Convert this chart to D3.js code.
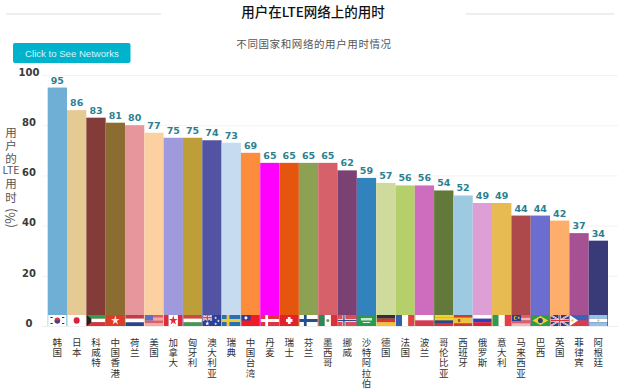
<!DOCTYPE html>
<html>
<head>
<meta charset="utf-8">
<script src="https://cdn.jsdelivr.net/npm/d3@7"></script>
<style>
  html, body { margin: 0; padding: 0; background: #fff; overflow: hidden; }
  text { font-family: "Noto Sans CJK SC", "Noto Sans", sans-serif; }
  .upright { writing-mode: vertical-rl; text-orientation: upright; }
</style>
</head>
<body>
<svg id="chart" width="626" height="391"></svg>
<script>
var countries = ["韩国", "日本", "科威特", "中国香港", "荷兰", "美国", "加拿大", "匈牙利", "澳大利亚", "瑞典",
  "中国台湾", "丹麦", "瑞士", "芬兰", "墨西哥", "挪威", "沙特阿拉伯", "德国", "法国", "波兰",
  "哥伦比亚", "西班牙", "俄罗斯", "意大利", "马来西亚", "巴西", "英国", "菲律宾", "阿根廷"];
var values = [95, 86, 83, 81, 80, 77, 75, 75, 74, 73, 69, 65, 65, 65, 65, 62, 59, 57, 56, 56, 54, 52, 49, 49, 44, 44, 42, 37, 34];
var barColours = ["#6fafd6", "#e6ca93", "#843c39", "#8c6d31", "#e7969c", "#fdd0a2", "#9e9adb", "#bd9e39", "#5254a3", "#c6dbef",
  "#fd8d3c", "#ff00ff", "#e6550d", "#8ca252", "#d6616b", "#7b4173", "#3182bd", "#cedb9c", "#b5cf6b", "#ce6dbd",
  "#637939", "#9ecae1", "#de9ed6", "#e7ba52", "#ad494a", "#6b6ecf", "#fdae6b", "#a55194", "#393b79"];
var yTicks = [0, 20, 40, 60, 80, 100];

var title = "用户在LTE网络上的用时";
var subtitle = "不同国家和网络的用户用时情况";
var buttonLabel = "Click to See Networks";

// flag background: stripe direction, then stripe colours
var flagStripes = [
  ["h", "#fff"], ["h", "#fff"], ["h", "#2e9e4f", "#fff", "#d8303a"], ["h", "#de3b2a"], ["h", "#c33a46", "#fff", "#26458f"],
  ["h", "#d9606a", "#f3a5a8", "#d9606a", "#f3a5a8"], ["v", "#e02b35", "#fff", "#fff", "#e02b35"], ["h", "#d2444c", "#fff", "#3e9a5c"],
  ["h", "#2b3f95"], ["h", "#2a6fb0"], ["h", "#ee1c25"], ["h", "#e0353f"], ["h", "#e0222c"], ["h", "#fff"],
  ["v", "#2b8a55", "#fff", "#d8303a"], ["h", "#d8505a"], ["h", "#2c9a4e"], ["h", "#333", "#d8303a", "#f2c230"],
  ["v", "#2f5fb0", "#fff", "#e5404a"], ["h", "#fff", "#d83a4c"], ["h", "#f4d02f", "#f4d02f", "#2a4595", "#d8303a"],
  ["h", "#cf3b2f", "#f2c42e", "#f2c42e", "#cf3b2f"], ["h", "#fff", "#2b40c0", "#e0222c"], ["v", "#2a9c58", "#fff", "#e0404a"],
  ["h", "#d8606a", "#f5b5b8", "#d8606a", "#f5b5b8"], ["h", "#2d9c4a"], ["h", "#2b3f85"], ["h", "#3a62b5", "#dd3a48"],
  ["h", "#8fc3ea", "#fff", "#8fc3ea"]
];

var svg = d3.select("#chart");
var defs = svg.append("defs");
defs.append("filter").attr("id", "soft")
  .append("feGaussianBlur").attr("stdDeviation", 0.45);

var x = d3.scaleBand().domain(countries).range([47.7, 608]);
var y = d3.scaleLinear().domain([0, 100]).range([326, 75]);

// Header
svg.append("text").attr("x", 313).attr("y", 17).attr("text-anchor", "middle")
  .style("font-size", "13.5px").style("font-weight", 500).attr("fill", "#111").text(title);
svg.append("text").attr("x", 314).attr("y", 48).attr("text-anchor", "middle")
  .style("font-size", "10.5px").style("letter-spacing", "0.6px").attr("fill", "#555").text(subtitle);
svg.selectAll(".rule").data([[6, 161], [466, 614]]).join("line").attr("class", "rule")
  .attr("x1", (d) => d[0]).attr("x2", (d) => d[1]).attr("y1", 14).attr("y2", 14)
  .attr("stroke", "#e8e8e8").attr("stroke-width", 1.5);

// Button
svg.append("rect").attr("x", 13).attr("y", 43).attr("width", 117.5).attr("height", 20).attr("rx", 2).attr("fill", "#00b3cc");
svg.append("text").attr("x", 72).attr("y", 56.5).attr("text-anchor", "middle")
  .style("font-family", '"Liberation Sans", sans-serif').style("font-size", "9.6px").attr("fill", "#d8f4f8").text(buttonLabel);

// Y axis
var yAxis = d3.axisLeft(y).tickValues(yTicks).tickSize(-576).tickPadding(0);
var gY = svg.append("g").attr("transform", "translate(42,0)").call(yAxis);
gY.select(".domain").remove();
gY.selectAll(".tick line").attr("stroke", "#f3f3f3");
gY.selectAll(".tick text")
  .attr("x", -13).attr("dy", "0.32em").attr("y", -3).attr("text-anchor", "middle")
  .style("font-family", '"DejaVu Sans", sans-serif').style("font-size", "10px").style("font-weight", "bold").attr("fill", "#3a3a3a");

// Y axis title, stacked. LTE stays horizontal so it sits between two upright runs
var yTitleStyle = (t, size) => t.style("font-size", size).attr("fill", "#555");
yTitleStyle(svg.append("text").attr("class", "upright").attr("x", 11).attr("y", 127)
  .style("letter-spacing", "1.2px").text("用户的"), "11.5px");
yTitleStyle(svg.append("text").attr("x", 11).attr("y", 174).attr("text-anchor", "middle").text("LTE"), "10.5px");
yTitleStyle(svg.append("text").attr("class", "upright").attr("x", 11).attr("y", 178)
  .style("letter-spacing", "2px").text("用时"), "11.5px");
yTitleStyle(svg.append("text").attr("transform", "translate(15,218) rotate(-90)").attr("text-anchor", "middle").text("(%)"), "12.5px");

// Bars
svg.selectAll(".bar").data(values).join("rect").attr("class", "bar")
  .attr("x", (d, i) => x(countries[i]))
  .attr("width", x.bandwidth())
  .attr("y", (d) => y(d))
  .attr("height", (d) => y(0) - y(d))
  .attr("fill", (d, i) => barColours[i]);

// Value labels
svg.selectAll(".value").data(values).join("text").attr("class", "value")
  .attr("x", (d, i) => x(countries[i]) + x.bandwidth() / 2)
  .attr("y", (d) => y(d) - 4)
  .attr("text-anchor", "middle")
  .style("font-family", '"DejaVu Sans", sans-serif').style("font-size", "9.5px").style("font-weight", "bold")
  .attr("fill", "#2b7f90").text((d) => d);

// Flags, drawn in a 20x11 box
var star = (g, cx, cy, r, fill) => g.append("path")
  .attr("d", d3.symbol(d3.symbolStar, r * r * 3)()).attr("transform", `translate(${cx},${cy})`).attr("fill", fill);
var dot = (g, cx, cy, r, fill) => g.append("circle").attr("cx", cx).attr("cy", cy).attr("r", r).attr("fill", fill);
var box = (g, a, b, w, h, fill) => g.append("rect").attr("x", a).attr("y", b).attr("width", w).attr("height", h).attr("fill", fill);
var nordic = (g, c) => { box(g, 5, 0, 3, 11, c); box(g, 0, 4, 20, 3, c); };
var unionJack = (g, w, h) => {
  g.append("path").attr("d", `M0,0L${w},${h}M${w},0L0,${h}`).attr("stroke", "#fff").attr("stroke-width", 1.6);
  g.append("path").attr("d", `M0,0L${w},${h}M${w},0L0,${h}`).attr("stroke", "#d8303a").attr("stroke-width", 0.6);
  box(g, w / 2 - 1.2, 0, 2.4, h, "#fff"); box(g, 0, h / 2 - 1.2, w, 2.4, "#fff");
  box(g, w / 2 - 0.6, 0, 1.2, h, "#d8303a"); box(g, 0, h / 2 - 0.6, w, 1.2, "#d8303a");
};

var emblems = {
  "韩国": (g) => { dot(g, 10, 5.5, 3, "#d8303a"); g.append("path").attr("d", "M7,5.5A3,3 0 0 0 13,5.5Z").attr("fill", "#2b4a9a");
    box(g, 2.5, 2, 2.5, 1, "#333"); box(g, 15, 2, 2.5, 1, "#333"); box(g, 2.5, 8, 2.5, 1, "#333"); box(g, 15, 8, 2.5, 1, "#333"); },
  "日本": (g) => dot(g, 10, 5.5, 3.2, "#d8203a"),
  "科威特": (g) => g.append("path").attr("d", "M0,0L5,3.7V7.3L0,11Z").attr("fill", "#222"),
  "中国香港": (g) => star(g, 10, 5.5, 3, "#fbe6e0"),
  "美国": (g) => box(g, 0, 0, 9, 5.5, "#5a70c0"),
  "加拿大": (g) => star(g, 10, 5.5, 3, "#e02b35"),
  "澳大利亚": (g) => { unionJack(g, 10, 5.5); star(g, 5, 8.5, 1.5, "#fff"); star(g, 14, 3, 1, "#fff"); star(g, 17, 6, 1, "#fff"); star(g, 14, 9, 1, "#fff"); },
  "瑞典": (g) => nordic(g, "#f2c82e"),
  "中国台湾": (g) => { box(g, 0, 0, 10, 5.5, "#2b3f95"); dot(g, 5, 2.8, 1.6, "#fff"); },
  "丹麦": (g) => nordic(g, "#fff"),
  "瑞士": (g) => { box(g, 8.5, 2, 3, 7, "#fff"); box(g, 6.5, 4, 7, 3, "#fff"); },
  "芬兰": (g) => nordic(g, "#24508f"),
  "墨西哥": (g) => dot(g, 10, 5.5, 1.6, "#7a8a50"),
  "挪威": (g) => { nordic(g, "#fff"); box(g, 5.8, 0, 1.4, 11, "#2b4a8f"); box(g, 0, 4.8, 20, 1.4, "#2b4a8f"); },
  "沙特阿拉伯": (g) => { box(g, 4, 3, 12, 2.5, "#cfe8d5"); box(g, 6, 7, 8, 1, "#e3f2e6"); },
  "西班牙": (g) => box(g, 4.5, 4, 2.5, 3, "#b0502a"),
  "马来西亚": (g) => { box(g, 0, 0, 10, 6, "#2b3f95"); dot(g, 4, 3, 1.9, "#f2d030"); dot(g, 4.8, 3, 1.6, "#2b3f95"); star(g, 7.5, 3, 1, "#f2d030"); },
  "巴西": (g) => { g.append("path").attr("d", "M10,1L18.5,5.5L10,10L1.5,5.5Z").attr("fill", "#f2d030"); dot(g, 10, 5.5, 2.6, "#2b3f85"); },
  "英国": (g) => unionJack(g, 20, 11),
  "菲律宾": (g) => { g.append("path").attr("d", "M0,0L9,5.5L0,11Z").attr("fill", "#fff"); dot(g, 3, 5.5, 1.3, "#f2d030"); },
  "阿根廷": (g) => dot(g, 10, 5.5, 1.2, "#e8c860"),
};

var flagH = 11;
countries.forEach((name, i) => {
  var w = x.bandwidth() - 0.8;
  var id = "flag" + i;
  defs.append("clipPath").attr("id", id).append("rect").attr("width", 20).attr("height", flagH);
  var g = svg.append("g")
    .attr("transform", `translate(${x(name) + 0.4},${y(0) - flagH}) scale(${w / 20},1)`)
    .attr("clip-path", `url(#${id})`)
    .attr("filter", "url(#soft)");
  var dir = flagStripes[i][0];
  var stripes = flagStripes[i].slice(1);
  var s = d3.scaleBand().domain(d3.range(stripes.length)).range([0, dir === "h" ? flagH : 20]);
  g.selectAll("rect.stripe").data(stripes).join("rect").attr("class", "stripe")
    .attr("x", (d, k) => (dir === "h" ? 0 : s(k)))
    .attr("y", (d, k) => (dir === "h" ? s(k) : 0))
    .attr("width", dir === "h" ? 20 : s.bandwidth())
    .attr("height", dir === "h" ? s.bandwidth() : flagH)
    .attr("fill", (d) => d);
  if (emblems[name]) emblems[name](g);
});

// Baseline
svg.append("line").attr("x1", 42).attr("x2", 618).attr("y1", y(0) + 0.5).attr("y2", y(0) + 0.5).attr("stroke", "#eee");

// Category labels, upright characters reading down
svg.selectAll(".cat").data(countries).join("text").attr("class", "cat upright")
  .attr("x", (d) => x(d) + x.bandwidth() / 2)
  .attr("y", 337.5)
  .style("font-size", "9.5px").style("letter-spacing", "0.8px").attr("fill", "#333")
  .text((d) => d);
</script>
</body>
</html>
